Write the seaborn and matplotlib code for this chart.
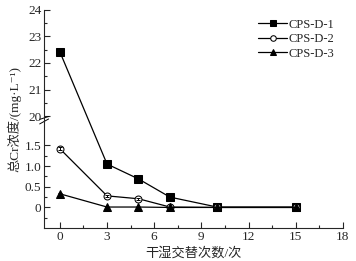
import numpy as np
import pandas as pd
import matplotlib
matplotlib.use("Agg")
import matplotlib.pyplot as plt
from matplotlib.ticker import FixedLocator, MultipleLocator
import seaborn as sns

# === Data ===
cycles = [0, 3, 5, 7, 10, 15]
cps_d1 = [22.42, 1.05, 0.69, 0.25, 0.01, 0.01]
cps_d2 = [1.42, 0.28, 0.21, 0.01, 0.0, 0.0]
cps_d3 = [0.33, 0.01, 0.01, 0.0, 0.0, 0.0]
err_d1 = [0.08, 0.08, 0.02, 0.02, 0.0, 0.0]
err_d2 = [0.03, 0.02, 0.02, 0.0, 0.0, 0.0]
err_d3 = [0.03, 0.0, 0.0, 0.0, 0.0, 0.0]
series = ["CPS-D-1", "CPS-D-2", "CPS-D-3"]
ytick_vals = [0, 0.5, 1.0, 1.5, 20, 21, 22, 23, 24]
ytick_labels = ["0", "0.5", "1.0", "1.5", "20", "21", "22", "23", "24"]

df = pd.DataFrame({
    "x": cycles * 3,
    "y": cps_d1 + cps_d2 + cps_d3,
    "s": [s for s in series for _ in cycles],
})

# === broken y scale ===
B, GAP, K = 2.2, 0.01, 0.642


def fwd(y):
    y = np.asarray(y, dtype=float)
    return np.where(y <= B, y,
                    np.where(y >= 20, B + GAP + (y - 20) * K,
                             B + (y - B) / (20 - B) * GAP))


def inv(u):
    u = np.asarray(u, dtype=float)
    return np.where(u <= B, u,
                    np.where(u >= B + GAP, 20 + (u - B - GAP) / K,
                             B + (u - B) / GAP * (20 - B)))


sns.set_style("ticks")
plt.rcParams['font.family'] = ['Liberation Serif', 'Noto Sans CJK SC', 'DejaVu Sans']

fig = plt.figure(figsize=(3.56, 2.61), dpi=100)
ax = fig.add_axes([0.124, 0.126, 0.839, 0.836])
ax.set_yscale('function', functions=(fwd, inv))

sns.lineplot(data=df, x="x", y="y", hue="s", style="s",
             palette=["black"] * 3, markers=["s", "o", "^"], dashes=False,
             markersize=5.5, linewidth=0.9, markeredgecolor="black", ax=ax)
# open circle for CPS-D-2
for ln in ax.lines:
    if ln.get_marker() == "o":
        ln.set_markerfacecolor("white")
        ln.set_markersize(5)

for vals, err in [(cps_d1, err_d1), (cps_d2, err_d2), (cps_d3, err_d3)]:
    ax.errorbar(cycles, vals, yerr=err, fmt="none", ecolor="black",
                elinewidth=0.7, capsize=1.5, capthick=0.7)

ax.set_xlim(-1, 18)
ax.set_ylim(-0.5, 24)
ax.xaxis.set_major_locator(MultipleLocator(3))
ax.xaxis.set_minor_locator(MultipleLocator(1.5))
ax.yaxis.set_major_locator(FixedLocator(ytick_vals))
ax.set_yticklabels(ytick_labels)
ax.yaxis.set_minor_locator(FixedLocator([-0.25, 0.25, 0.75, 1.25, 20.5, 21.5, 22.5, 23.5]))
ax.tick_params(which="both", direction="in", labelsize=9.5, width=0.8, pad=2)
ax.tick_params(which="major", length=4)
ax.tick_params(which="minor", length=2.5)
sns.despine(ax=ax)
for sp in ["left", "bottom"]:
    ax.spines[sp].set_linewidth(0.8)

ax.set_xlabel("干湿交替次数/次", fontsize=9.5, labelpad=3)
ax.set_ylabel("总Cr浓度/(mg·L⁻¹)", fontsize=9.5, labelpad=2)

# break marks on the y axis
tr = ax.get_yaxis_transform()
ax.plot([0, 0], [2.1, 2.17], transform=tr, color="white", lw=2, clip_on=False)
for yy in [2.08, 2.19]:
    ax.plot([-0.015, 0.015], [yy - 0.06, yy + 0.06], transform=tr,
            color="black", lw=0.7, clip_on=False)

handles, labels = ax.get_legend_handles_labels()
ax.legend(handles, labels, loc="upper right", bbox_to_anchor=(1.0, 1.0),
          frameon=False, fontsize=9, handlelength=2.3, handletextpad=0.1,
          labelspacing=0.2, markerscale=0.8, borderpad=0.2)

fig.savefig("out.png", dpi=100)
